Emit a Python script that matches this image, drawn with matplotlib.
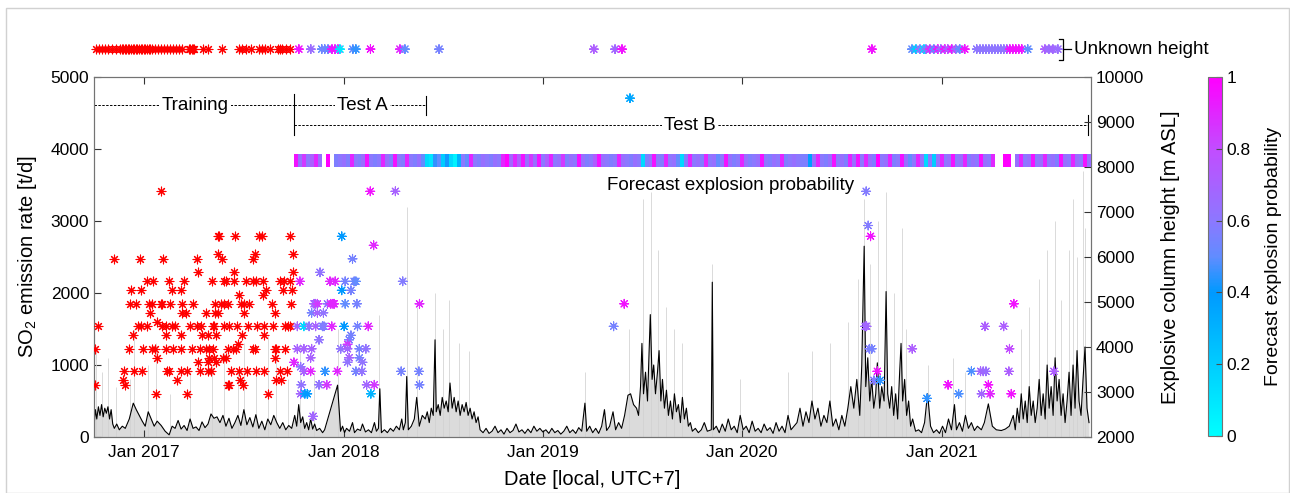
import numpy as np
import matplotlib
matplotlib.use('Agg')
import matplotlib.pyplot as plt
from matplotlib.colors import LinearSegmentedColormap, Normalize
from matplotlib.cm import ScalarMappable
from matplotlib.patches import Rectangle

plt.rcParams['font.family'] = ['Liberation Sans', 'DejaVu Sans']
plt.rcParams['mathtext.fontset'] = 'custom'
plt.rcParams['mathtext.rm'] = 'Liberation Sans'

# ---------------- data ----------------
# SO2 emission rate (decimal year, t/d)
so2_year = [2016.748, 2016.755, 2016.762, 2016.770, 2016.778, 2016.786, 2016.794, 2016.802, 2016.810, 2016.818,
            2016.826, 2016.834, 2016.842, 2016.850, 2016.862, 2016.875, 2016.890, 2016.905, 2016.925, 2016.945,
            2016.960, 2016.975, 2016.990, 2017.005, 2017.020, 2017.035, 2017.050, 2017.065, 2017.085, 2017.105,
            2017.125, 2017.140, 2017.155, 2017.170, 2017.185, 2017.200, 2017.215, 2017.230, 2017.245, 2017.260,
            2017.275, 2017.290, 2017.305, 2017.320, 2017.335, 2017.350, 2017.365, 2017.380, 2017.395, 2017.410,
            2017.425, 2017.440, 2017.455, 2017.470, 2017.485, 2017.500, 2017.515, 2017.530, 2017.545, 2017.560,
            2017.575, 2017.590, 2017.605, 2017.620, 2017.635, 2017.650, 2017.665, 2017.680, 2017.695, 2017.710,
            2017.725, 2017.740, 2017.755, 2017.765, 2017.775, 2017.785, 2017.795, 2017.805, 2017.815, 2017.825,
            2017.835, 2017.845, 2017.855, 2017.865, 2017.880, 2017.895, 2017.905, 2017.970, 2017.985, 2017.995,
            2018.005, 2018.015, 2018.030, 2018.045, 2018.055, 2018.070, 2018.085, 2018.095, 2018.110, 2018.125,
            2018.140, 2018.155, 2018.165, 2018.175, 2018.182, 2018.190, 2018.205, 2018.220, 2018.235, 2018.250,
            2018.265, 2018.280, 2018.292, 2018.300, 2018.310, 2018.317, 2018.325, 2018.340, 2018.355, 2018.367,
            2018.380, 2018.395, 2018.410, 2018.420, 2018.430, 2018.440, 2018.450, 2018.459, 2018.465, 2018.475,
            2018.485, 2018.495, 2018.505, 2018.515, 2018.525, 2018.534, 2018.545, 2018.555, 2018.565, 2018.575,
            2018.585, 2018.595, 2018.605, 2018.615, 2018.625, 2018.635, 2018.645, 2018.655, 2018.665, 2018.675,
            2018.685, 2018.700, 2018.715, 2018.730, 2018.745, 2018.760, 2018.775, 2018.790, 2018.805, 2018.820,
            2018.835, 2018.850, 2018.865, 2018.880, 2018.895, 2018.910, 2018.925, 2018.940, 2018.955, 2018.970,
            2018.985, 2019.000, 2019.015, 2019.030, 2019.045, 2019.060, 2019.075, 2019.090, 2019.105, 2019.120,
            2019.135, 2019.150, 2019.165, 2019.180, 2019.195, 2019.211, 2019.220, 2019.235, 2019.250, 2019.265,
            2019.280, 2019.295, 2019.309, 2019.320, 2019.335, 2019.352, 2019.365, 2019.380, 2019.395, 2019.410,
            2019.427, 2019.440, 2019.455, 2019.470, 2019.480, 2019.490, 2019.497, 2019.505, 2019.515, 2019.525,
            2019.532, 2019.539, 2019.548, 2019.556, 2019.565, 2019.575, 2019.583, 2019.592, 2019.600, 2019.610,
            2019.620, 2019.630, 2019.640, 2019.650, 2019.660, 2019.670, 2019.680, 2019.690, 2019.700, 2019.710,
            2019.720, 2019.730, 2019.740, 2019.750, 2019.765, 2019.780, 2019.795, 2019.810, 2019.825, 2019.845,
            2019.850, 2019.855, 2019.870, 2019.885, 2019.900, 2019.915, 2019.930, 2019.945, 2019.960, 2019.975,
            2019.990, 2020.005, 2020.020, 2020.035, 2020.050, 2020.065, 2020.080, 2020.095, 2020.110, 2020.125,
            2020.140, 2020.155, 2020.170, 2020.185, 2020.200, 2020.215, 2020.230, 2020.245, 2020.260, 2020.275,
            2020.290, 2020.305, 2020.320, 2020.335, 2020.350, 2020.365, 2020.380, 2020.395, 2020.410, 2020.425,
            2020.440, 2020.455, 2020.470, 2020.485, 2020.500, 2020.515, 2020.530, 2020.545, 2020.560, 2020.575,
            2020.590, 2020.600, 2020.612, 2020.620, 2020.630, 2020.640, 2020.650, 2020.660, 2020.670, 2020.678,
            2020.690, 2020.700, 2020.712, 2020.722, 2020.730, 2020.740, 2020.750, 2020.760, 2020.770, 2020.780,
            2020.790, 2020.797, 2020.805, 2020.815, 2020.825, 2020.835, 2020.845, 2020.855, 2020.870, 2020.885,
            2020.900, 2020.915, 2020.930, 2020.945, 2020.960, 2020.975, 2020.990, 2021.005, 2021.020, 2021.035,
            2021.050, 2021.065, 2021.075, 2021.090, 2021.105, 2021.120, 2021.135, 2021.150, 2021.165, 2021.180,
            2021.200, 2021.215, 2021.235, 2021.255, 2021.275, 2021.300, 2021.320, 2021.340, 2021.360, 2021.370,
            2021.380, 2021.390, 2021.400, 2021.410, 2021.420, 2021.430, 2021.440, 2021.450, 2021.460, 2021.470,
            2021.480, 2021.490, 2021.500, 2021.510, 2021.520, 2021.530, 2021.540, 2021.550, 2021.560, 2021.570,
            2021.580, 2021.590, 2021.600, 2021.610, 2021.620, 2021.630, 2021.640, 2021.650, 2021.660, 2021.670,
            2021.680, 2021.690, 2021.700, 2021.710, 2021.720, 2021.730, 2021.740]
so2_rate = [150, 380, 250, 420, 300, 450, 280, 400, 330, 420,
            250, 380, 180, 120, 180, 100, 150, 120, 250, 470,
            380, 300, 220, 150, 350, 250, 150, 220, 160, 80,
            30, 150, 120, 230, 110, 160, 90, 250, 120, 140,
            90, 210, 130, 180, 320, 260, 280, 200, 300, 150,
            260, 120, 200, 300, 160, 380, 170, 270, 140, 310,
            120, 220, 100, 250, 170, 300, 200, 120, 200, 100,
            160, 120, 300, 150, 450, 200, 280, 120, 200, 100,
            250, 110, 180, 90, 120, 60, 100, 720, 80, 150,
            60, 120, 80, 200, 60, 110, 90, 180, 70, 100,
            60, 200, 80, 120, 670, 60, 100, 60, 120, 80,
            150, 100, 250, 100, 200, 840, 100, 150, 250, 550,
            150, 300, 250, 350, 200, 400, 300, 1350, 350, 450,
            300, 550, 400, 500, 350, 750, 400, 550, 350, 500,
            300, 450, 350, 480, 300, 400, 250, 350, 200, 280,
            100, 60, 120, 50, 80, 150, 60, 100, 40, 120,
            60, 90, 180, 70, 100, 50, 110, 60, 150, 80,
            120, 70, 100, 50, 120, 60, 90, 40, 80, 150,
            60, 100, 50, 130, 80, 470, 80, 150, 60, 120,
            50, 150, 380, 90, 150, 350, 100, 200, 120, 300,
            580, 600, 450, 400, 300, 700, 1300, 600, 900, 500,
            1100, 1700, 800, 1000, 600, 900, 1200, 500, 800, 400,
            650, 300, 500, 250, 600, 350, 450, 200, 550, 250,
            400, 150, 200, 80, 120, 60, 100, 200, 80, 100,
            2150, 100, 150, 60, 180, 80, 250, 100, 150, 60,
            300, 100, 150, 60, 220, 80, 120, 60, 180, 90,
            130, 50, 200, 80, 150, 60, 300, 100, 150, 200,
            400, 150, 350, 200, 500, 250, 400, 150, 300, 200,
            500, 150, 250, 100, 300, 150, 400, 700, 400, 800,
            300, 1000, 2650, 700, 1100, 500, 800, 400, 600, 1030,
            400, 700, 500, 2020, 600, 400, 700, 300, 600, 250,
            900, 1300, 500, 800, 300, 500, 150, 250, 80, 100,
            60, 200, 600, 150, 60, 100, 50, 150, 60, 250,
            100, 450, 100, 200, 80, 300, 120, 200, 90, 150,
            100, 200, 460, 150, 100, 90, 110, 150, 300, 100,
            400, 200, 600, 250, 500, 200, 700, 300, 500, 200,
            400, 800, 300, 600, 250, 1000, 400, 700, 300, 1100,
            500, 800, 300, 600, 200, 500, 900, 300, 1000, 400,
            1200, 500, 300, 800, 1250, 400, 200]

# tall grey streaks of the SO2 background (decimal year, t/d)
streak_year = [2016.76, 2016.79, 2016.82, 2016.86, 2016.93, 2016.95, 2017.02, 2017.06, 2017.13, 2017.23,
               2017.34, 2017.40, 2017.47, 2017.50, 2017.56, 2017.62, 2017.66, 2017.72, 2017.78, 2017.85,
               2017.97, 2018.18, 2018.32, 2018.37, 2018.46, 2018.50, 2018.53, 2018.58, 2018.63, 2019.21,
               2019.43, 2019.50, 2019.54, 2019.58, 2019.62, 2019.66, 2019.70, 2019.85, 2019.99, 2020.23,
               2020.35, 2020.44, 2020.53, 2020.58, 2020.61, 2020.64, 2020.68, 2020.72, 2020.76, 2020.80,
               2020.82, 2020.93, 2021.06, 2021.12, 2021.40, 2021.44, 2021.49, 2021.53, 2021.57, 2021.60,
               2021.64, 2021.66, 2021.68, 2021.71, 2021.72]
streak_rate = [1200, 900, 1100, 700, 800, 1500, 1000, 1300, 600, 900,
               1000, 1200, 900, 1300, 1000, 1400, 1200, 800, 1300, 900,
               1500, 1700, 3200, 1800, 2000, 1500, 1900, 1300, 1200, 900,
               1500, 3300, 3400, 2600, 1800, 1500, 1300, 2400, 800, 900,
               1200, 1300, 1600, 2200, 3300, 2400, 3000, 3400, 2000, 2900,
               1500, 1000, 1100, 900, 1500, 1800, 2200, 2600, 3000, 1900,
               2600, 3300, 2500, 3700, 2900]

# training-period explosions: column height [m ASL] -> decimal years
train_rows = {
    7460: [2017.086],
    6460: [2017.371, 2017.376, 2017.455, 2017.578, 2017.590, 2017.729],
    6060: [2017.370, 2017.556, 2017.746],
    5960: [2016.849, 2016.978, 2017.096, 2017.264, 2017.390, 2017.544],
    5660: [2017.269, 2017.449, 2017.746],
    5460: [2017.015, 2017.045, 2017.124, 2017.202, 2017.338, 2017.402, 2017.410, 2017.452, 2017.511,
           2017.544, 2017.561, 2017.595, 2017.679, 2017.699, 2017.729],
    5260: [2016.936, 2016.982, 2017.141, 2017.183, 2017.612, 2017.696, 2017.741],
    5160: [2017.477, 2017.595],
    4960: [2016.931, 2016.961, 2017.024, 2017.040, 2017.082, 2017.091, 2017.128, 2017.188, 2017.247,
           2017.356, 2017.385, 2017.398, 2017.418, 2017.486, 2017.502, 2017.528, 2017.640, 2017.738],
    4760: [2017.027, 2017.192, 2017.208, 2017.309, 2017.356, 2017.368, 2017.499, 2017.654],
    4560: [2017.062],
    4460: [2016.768, 2016.968, 2016.982, 2017.015, 2017.091, 2017.111, 2017.141, 2017.155, 2017.230,
           2017.267, 2017.284, 2017.343, 2017.351, 2017.402, 2017.427, 2017.464, 2017.519, 2017.565,
           2017.603, 2017.645, 2017.704, 2017.721, 2017.729],
    4260: [2016.945, 2017.108, 2017.183, 2017.292, 2017.318, 2017.360, 2017.491, 2017.603],
    4060: [2017.469],
    3960: [2016.751, 2016.923, 2016.993, 2017.037, 2017.054, 2017.111, 2017.146, 2017.183, 2017.242,
           2017.279, 2017.309, 2017.326, 2017.343, 2017.418, 2017.444, 2017.460, 2017.544, 2017.558,
           2017.654, 2017.662, 2017.704],
    3760: [2017.062, 2017.326, 2017.348, 2017.393, 2017.410, 2017.654],
    3660: [2017.272, 2017.318, 2017.360],
    3460: [2016.901, 2016.948, 2016.987, 2017.116, 2017.124, 2017.183, 2017.217, 2017.281, 2017.318,
           2017.336, 2017.435, 2017.477, 2017.514, 2017.561, 2017.603, 2017.682, 2017.717],
    3260: [2016.893, 2017.166, 2017.482, 2017.687, 2017.662],
    3160: [2016.751, 2016.906, 2017.418, 2017.427, 2017.494],
    2960: [2017.057, 2017.213, 2017.620],
}

# test-period explosions: (decimal year, column height [m ASL], forecast probability)
test_year = [2018.134, 2018.260, 2017.991, 2018.151, 2018.045, 2017.882, 2017.781, 2017.932, 2017.958, 2018.008,
             2018.053, 2018.062, 2018.297, 2017.991, 2018.037, 2017.852, 2017.860, 2017.869, 2017.919, 2017.936,
             2017.947, 2017.953, 2018.008, 2018.067, 2018.381, 2017.840, 2017.869, 2017.899, 2017.768, 2017.801,
             2017.827, 2017.860, 2017.894, 2017.902, 2017.941, 2018.003, 2018.070, 2018.124, 2018.037, 2018.028,
             2017.877, 2018.020, 2017.768, 2017.801, 2017.840, 2017.986, 2018.020, 2018.079, 2018.112, 2017.835,
             2018.028, 2018.079, 2018.095, 2018.020, 2017.751, 2017.785, 2017.801, 2017.835, 2017.907, 2017.969,
             2018.062, 2018.092, 2018.289, 2018.378, 2017.788, 2017.877, 2017.916, 2018.116, 2018.154, 2018.381,
             2017.785, 2017.806, 2017.818, 2018.137, 2017.847,
             2019.355, 2019.408, 2019.437, 2020.622, 2020.632, 2020.644, 2020.617, 2020.624, 2020.638, 2020.650,
             2020.678, 2020.661, 2020.692, 2020.853, 2020.927, 2021.033, 2021.086, 2021.150, 2021.196, 2021.209,
             2021.223, 2021.218, 2021.235, 2021.201, 2021.244, 2021.312, 2021.363, 2021.341, 2021.338, 2021.350,
             2021.564]
test_height = [7460, 7460, 6460, 6260, 5960, 5660, 5460, 5460, 5460, 5460,
               5460, 5460, 5460, 5260, 5260, 4960, 4960, 4960, 4960, 4960,
               4960, 4960, 4960, 4960, 4960, 4760, 4760, 4760, 4460, 4460,
               4460, 4460, 4460, 4460, 4460, 4460, 4460, 4460, 4260, 4160,
               4160, 4060, 3960, 3960, 3960, 3960, 3960, 3960, 3960, 3760,
               3760, 3760, 3660, 3660, 3660, 3560, 3460, 3460, 3460, 3460,
               3460, 3460, 3460, 3460, 3160, 3160, 3160, 3160, 3160, 3160,
               2960, 2960, 2960, 2960, 2460,
               4460, 4960, 9530, 7460, 6700, 6460, 4460, 4460, 3960, 3960,
               3460, 3260, 3260, 3960, 2860, 3160, 2960, 3460, 3460, 3460,
               3460, 4460, 3160, 2960, 2960, 4460, 4960, 3960, 3460, 2960,
               3460]
test_prob = [0.95, 0.7, 0.4, 0.9, 0.55, 0.62, 0.9, 0.9, 0.9, 0.55,
             0.55, 0.5, 0.58, 0.4, 0.55, 0.7, 0.68, 0.85, 0.62, 0.9,
             0.9, 0.9, 0.5, 0.55, 0.9, 0.55, 0.7, 0.62, 0.7, 0.15,
             0.62, 0.7, 0.55, 0.58, 0.9, 0.4, 0.55, 0.9, 0.55, 0.55,
             0.62, 0.85, 0.7, 0.7, 0.7, 0.62, 0.68, 0.55, 0.62, 0.7,
             0.7, 0.55, 0.62, 0.62, 0.9, 0.62, 0.7, 0.9, 0.45, 0.9,
             0.55, 0.62, 0.55, 0.55, 0.62, 0.62, 0.85, 0.68, 0.85, 0.55,
             0.68, 0.35, 0.4, 0.3, 0.68,
             0.55, 0.95, 0.35, 0.58, 0.58, 0.95, 0.68, 0.68, 0.58, 0.55,
             0.95, 0.58, 0.45, 0.72, 0.45, 0.95, 0.48, 0.48, 0.68, 0.68,
             0.65, 0.72, 0.95, 0.68, 0.9, 0.72, 0.95, 0.8, 0.72, 0.95,
             0.72]

# explosions of unknown height
unk_train_year = [2016.758, 2016.773, 2016.788, 2016.803, 2016.818, 2016.838, 2016.858,
                  2016.878, 2016.886, 2016.894, 2016.902, 2016.910, 2016.918, 2016.926, 2016.934, 2016.942,
                  2016.950, 2016.958, 2016.966, 2016.974, 2016.982, 2016.990, 2016.998, 2017.006, 2017.014,
                  2017.022, 2017.030, 2017.040, 2017.055, 2017.070, 2017.085, 2017.100, 2017.115, 2017.130,
                  2017.145, 2017.160, 2017.175, 2017.190, 2017.225, 2017.232, 2017.240, 2017.246, 2017.252,
                  2017.295, 2017.320, 2017.390, 2017.475, 2017.490, 2017.510, 2017.535, 2017.575, 2017.590,
                  2017.605, 2017.630, 2017.670, 2017.683, 2017.690, 2017.710, 2017.730]
unk_test_year = [2017.776, 2017.836, 2017.891, 2017.906, 2017.922, 2017.942, 2017.957, 2017.972, 2017.982,
                 2018.047, 2018.062, 2018.135, 2018.283, 2018.308, 2018.479, 2019.256, 2019.362, 2019.397,
                 2020.651, 2020.852, 2020.872, 2020.892, 2020.912, 2020.922, 2020.942, 2020.962, 2020.982,
                 2020.997, 2021.017, 2021.032, 2021.052, 2021.072, 2021.092, 2021.117, 2021.177, 2021.193,
                 2021.208, 2021.223, 2021.238, 2021.253, 2021.268, 2021.283, 2021.298, 2021.313, 2021.328,
                 2021.343, 2021.358, 2021.373, 2021.388, 2021.403, 2021.433, 2021.519, 2021.539, 2021.559,
                 2021.584]
unk_test_prob = [0.95, 0.65, 0.5, 0.55, 0.5, 0.95, 0.95, 0.9, 0.1,
                 0.5, 0.45, 0.95, 0.9, 0.5, 0.55, 0.72, 0.68, 0.95,
                 0.95, 0.5, 0.2, 0.65, 0.15, 0.55, 0.9, 0.5, 0.95,
                 0.65, 0.95, 0.72, 0.95, 0.65, 0.5, 0.95, 0.6, 0.62,
                 0.6, 0.62, 0.6, 0.62, 0.6, 0.62, 0.6, 0.62, 0.62,
                 0.95, 0.95, 0.95, 0.95, 0.95, 0.5, 0.72, 0.65, 0.68,
                 0.65]

# forecast explosion probability strip (bins of 0.02 yr from 2017.75)
strip_start = 2017.75
strip_step = 0.02
nan = np.nan
strip_prob = [0.95, 0.64, 0.85, 0.6, 0.7, 0.9, 0.64, nan, 1.0, nan, 0.57, 0.6, 0.64, 0.57, 0.9, 0.6, 0.57, 0.64, 0.95, 0.6,
              0.57, 0.6, 0.9, 0.64, 0.57, 0.95, 0.6, 0.57, 0.9, 0.6, 0.57, 0.64, 0.5, 0.15, 0.1, 0.45, 0.5, 0.2, 0.42, 0.15,
              0.05, 0.3, 0.6, 0.5, 0.9, 0.6, 0.57, 0.64, 0.6, 0.57, 0.64, 0.6, 0.9, 1.0, 0.68, 0.9, 0.72, 0.95, 0.64, 0.85,
              0.64, 0.95, 0.6, 0.72, 0.9, 0.6, 0.64, 0.85, 0.57, 0.64, 0.6, 0.95, 0.64, 0.57, 0.6, 0.72, 0.95, 0.64, 0.6, 0.57,
              0.6, 0.9, 0.64, 0.6, 0.57, 0.64, 0.6, 0.15, 0.57, 0.64, 0.95, 0.6, 0.57, 0.9, 0.6, 0.64, 0.5, 0.15, 0.57, 0.9,
              0.6, 0.64, 0.57, 0.9, 0.6, 0.64, 0.5, 0.6, 0.95, 0.64, 0.57, 0.6, 0.9, 0.64, 0.57, 0.6, 0.64, 0.95, 0.6, 0.57,
              0.64, 0.6, 0.9, 0.57, 0.6, 0.64, 0.6, 0.57, 0.57, 0.38, 0.64, 0.9, 0.6, 0.57, 0.64, 0.95, 0.6, 0.64, 0.57, 0.9,
              0.64, 0.95, 0.6, 0.9, 0.64, 0.57, 1.0, 0.6, 0.64, 0.9, 0.57, 0.6, 0.95, 0.64, 0.5, 0.6, 0.9, 0.64, 0.15, 0.6,
              0.2, 0.64, 0.9, 0.6, 0.64, 0.95, 0.6, 0.64, 0.9, 0.57, 0.64, 0.6, 0.95, 0.64, 0.6, 0.9, nan, nan, 1.0, 1.0,
              nan, 0.64, 0.9, 0.6, 0.64, 0.95, 0.6, 0.64, 0.9, 0.6, 0.64, 0.57, 0.95, 0.64, 0.6, 0.9, 0.64, 0.6, 0.95, 0.64]

# period annotations (decimal years)
train_start, train_end = 2016.748, 2017.750
testA_end = 2018.416
testB_end = 2021.735
x_ticks = [2017, 2018, 2019, 2020, 2021]
x_ticklabels = ['Jan 2017', 'Jan 2018', 'Jan 2019', 'Jan 2020', 'Jan 2021']

# ---------------- figure ----------------
W, H = 1290, 493
fig = plt.figure(figsize=(W / 100, H / 100), dpi=100)
fig.patches.append(Rectangle((6 / W, 0), 1 - 7 / W, 1 - 8 / H, transform=fig.transFigure,
                             fill=False, edgecolor='0.82', lw=1.0))

ax = fig.add_axes([94 / W, 1 - 437 / H, (1091 - 94) / W, (437 - 77) / H])
ax2 = ax.twinx()

cmap = LinearSegmentedColormap.from_list('prob', [(0.0, (0.0, 1.0, 1.0)),
                                                   (0.4, (0.0, 0.6, 1.0)),
                                                   (0.5, (0.38, 0.55, 1.0)),
                                                   (0.6, (0.55, 0.47, 1.0)),
                                                   (0.8, (0.76, 0.3, 1.0)),
                                                   (1.0, (1.0, 0.0, 1.0))])
norm = Normalize(0, 1)

# SO2
ax.fill_between(so2_year, 0, so2_rate, color='0.5', alpha=0.28, lw=0)
ax.vlines(streak_year, 0, streak_rate, color='0.82', lw=0.7, alpha=0.8)
ax.plot(so2_year, so2_rate, color='k', lw=0.8)

ax.set_xlim(2016.748, 2021.750)
ax.set_ylim(0, 5000)
ax2.set_ylim(2000, 10000)
ax.set_xticks(x_ticks)
ax.set_xticklabels(x_ticklabels)
ax.set_yticks(range(0, 5001, 1000))
ax2.set_yticks(range(2000, 10001, 1000))

ast = (8, 2, 0)
tx = [y for h, ys in train_rows.items() for y in ys]
th = [h for h, ys in train_rows.items() for y in ys]
ax2.scatter(tx, th, marker=ast, s=40, color=(1, 0, 0), linewidths=0.8, zorder=4)
ax2.scatter(test_year, test_height, c=test_prob, cmap=cmap, norm=norm, marker=ast, s=40,
            linewidths=0.8, zorder=4)

# unknown height row
unk_h = 10620
ax2.scatter(unk_train_year, [unk_h] * len(unk_train_year), marker=ast, s=40, color=(1, 0, 0),
            linewidths=0.8, clip_on=False, zorder=4)
ax2.scatter(unk_test_year, [unk_h] * len(unk_test_year), c=unk_test_prob, cmap=cmap, norm=norm,
            marker=ast, s=40, linewidths=0.8, clip_on=False, zorder=4)
bx = 2021.61
ax2.plot([bx - 0.02, bx, bx, bx - 0.02], [10840, 10840, 10380, 10380], color='k', lw=0.9, clip_on=False)
ax2.plot([bx, bx + 0.04], [unk_h, unk_h], color='k', lw=0.9, clip_on=False)
ax2.text(bx + 0.055, unk_h, 'Unknown height', fontsize=13.5, va='center', ha='left', clip_on=False)

# forecast strip
edges = strip_start + strip_step * np.arange(len(strip_prob) + 1)
ax2.pcolormesh(edges, [8000, 8300], np.ma.masked_invalid([strip_prob]), cmap=cmap, norm=norm,
               shading='flat', zorder=3)
ax.text(2019.94, 3500, 'Forecast explosion probability', fontsize=13.5, ha='center', va='center')

# period annotations
dash = (0, (2.5, 1.5))
y_tr, y_tb = 4610, 4330
ax.plot([train_start, train_end], [y_tr, y_tr], color='k', lw=0.7, ls=dash)
ax.plot([train_end, testA_end], [y_tr, y_tr], color='k', lw=0.7, ls=dash)
ax.plot([train_end, testB_end], [y_tb, y_tb], color='k', lw=0.7, ls=dash)
ax.plot([train_end, train_end], [4760, 4190], color='k', lw=0.8)
ax.plot([testA_end, testA_end], [4740, 4470], color='k', lw=0.8)
ax.plot([testB_end, testB_end], [4470, 4190], color='k', lw=0.8)
bb = dict(facecolor='white', edgecolor='none', pad=1.5)
ax.text(2017.255, y_tr, 'Training', fontsize=13.5, ha='center', va='center', bbox=bb, zorder=5)
ax.text(2018.093, y_tr, 'Test A', fontsize=13.5, ha='center', va='center', bbox=bb, zorder=5)
ax.text(2019.738, y_tb, 'Test B', fontsize=13.5, ha='center', va='center', bbox=bb, zorder=5)

# axes styling
for a in (ax, ax2):
    for s in a.spines.values():
        s.set_color('0.45')
        s.set_linewidth(0.8)
ax.tick_params(axis='x', direction='in', top=True, length=5, width=0.8, color='0.2',
               labelsize=12.5, pad=6)
ax.tick_params(axis='y', direction='in', left=True, right=False, length=5, width=0.8, color='0.2',
               labelsize=12.5)
ax2.tick_params(axis='y', direction='in', right=True, length=5, width=0.8, color='0.2', labelsize=12.5)
ax.set_xlabel('Date [local, UTC+7]', fontsize=14.5, labelpad=7)
ax.set_ylabel('SO$_2$ emission rate [t/d]', fontsize=14.5, labelpad=8)
ax2.set_ylabel('Explosive column height [m ASL]', fontsize=14.5, labelpad=12)

# colorbar
cax = fig.add_axes([1208 / W, 1 - 436 / H, 14 / W, (436 - 77) / H])
cb = fig.colorbar(ScalarMappable(norm=norm, cmap=cmap), cax=cax)
cb.set_ticks([0, 0.2, 0.4, 0.6, 0.8, 1])
cb.set_ticklabels(['0', '0.2', '0.4', '0.6', '0.8', '1'])
cb.ax.tick_params(direction='in', length=4, width=0.8, color='0.3', labelsize=12.5)
cb.outline.set_edgecolor('0.45')
cb.outline.set_linewidth(0.8)
cb.set_label('Forecast explosion probability', fontsize=14, labelpad=10)

fig.savefig('out.png', dpi=100)
